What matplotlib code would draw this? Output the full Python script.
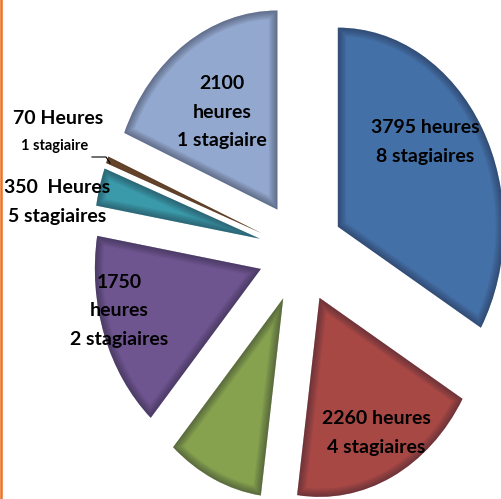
import matplotlib
matplotlib.use("Agg")
import matplotlib.pyplot as plt
from matplotlib.patches import Wedge
from matplotlib.lines import Line2D

# ---- data ----
categories = ["3795 heures", "2260 heures", "(sans étiquette)", "1750 heures",
              "350 Heures", "70 Heures", "2100 heures"]
hours = [3795, 2260, None, 1750, 350, 70, 2100]
stagiaires = [8, 4, None, 2, 5, 1, 1]
# slice shares (degrees of the circle)
slice_share_deg = [119.7, 66.8, 33.6, 57.6, 11.0, 2.0, 66.9]
colors = ["#4470A8", "#A84845", "#86A24E", "#6F5590", "#3A9AAA", "#8B5A2B", "#93A8CE"]

label_texts = [
    "3795 heures\n8 stagiaires",
    "2260 heures\n4 stagiaires",
    None,
    "1750\nheures\n2 stagiaires",
    "350  Heures\n5 stagiaires",
    "70 Heures",
    "2100\nheures\n1 stagiaire",
]

plt.rcParams['font.family'] = ['Lato', 'DejaVu Sans']

fig = plt.figure(figsize=(5.01, 4.99), dpi=100)
ax = fig.add_axes([0, 0, 1, 1])
ax.axis("off")

wedges, _ = ax.pie(slice_share_deg, colors=colors, startangle=90, counterclock=False,
                   explode=[0.256] * len(slice_share_deg), radius=1.0,
                   wedgeprops=dict(linewidth=0))
ax.set_aspect("auto")
ax.set_xlim(-1.813, 1.205)
ax.set_ylim(-1.241, 1.266)

# inner shadow near slice edges
for w in wedges:
    for lw in [2, 4, 6, 8, 10, 12]:
        s = Wedge(w.center, w.r, w.theta1, w.theta2, fill=False,
                  edgecolor="#1a1a2a", linewidth=lw, alpha=0.075)
        ax.add_patch(s)
        s.set_clip_path(w)

W, H = 501.0, 499.0
def place(x, y, txt, size=14, ls=1.85):
    ax.text(x / W, 1 - y / H, txt, transform=ax.transAxes, ha="center", va="center",
            fontsize=size, fontweight="bold", color="black", linespacing=ls)

place(425, 142, label_texts[0])
place(376, 433, label_texts[1])
place(119, 311, label_texts[3])
place(57, 202, label_texts[4])
place(58, 119, label_texts[5])
place(55, 146, "1 stagiaire", size=10.5)
place(222, 112, label_texts[6])

# leader line for the 70 hours slice
ax.add_line(Line2D([92 / W, 106 / W, 110 / W], [1 - 157 / H, 1 - 157 / H, 1 - 163 / H],
                   transform=ax.transAxes, color="black", linewidth=0.8))

# orange border on the left
ax.add_line(Line2D([1.2 / W, 1.2 / W], [0, 1], transform=ax.transAxes,
                   color="#F07020", linewidth=1.8))

fig.savefig("out.png", dpi=100)
